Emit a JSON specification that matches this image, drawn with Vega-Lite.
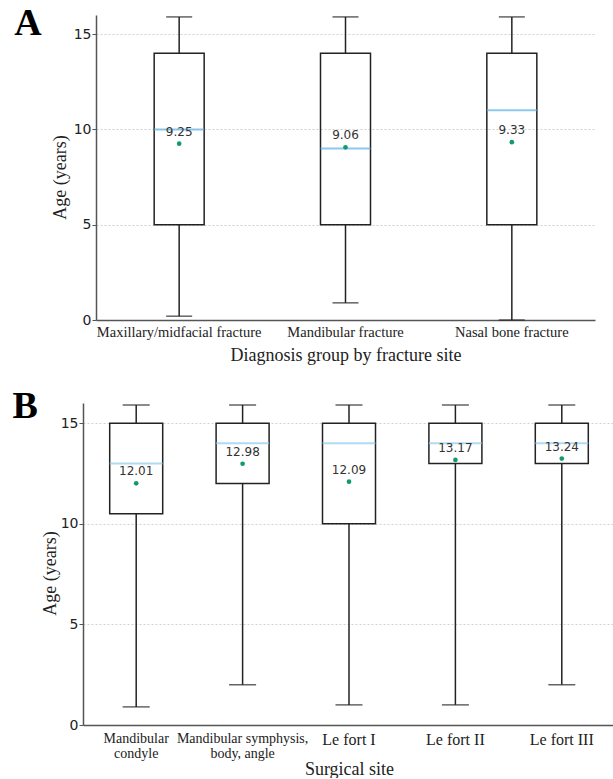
{
  "$schema": "https://vega.github.io/schema/vega-lite/v6.json",
  "padding": {"left": 12, "top": 5, "right": 0, "bottom": 0},
  "spacing": 23,
  "columns": 1,
  "background": "white",
  "config": {
    "view": {"stroke": null},
    "axis": {
      "domainColor": "#555",
      "domainWidth": 1.5,
      "gridColor": "#c4c4c4",
      "gridDash": [2, 2],
      "gridWidth": 0.8,
      "titleFont": "Liberation Serif",
      "titleFontSize": 18,
      "titleFontWeight": "normal",
      "titleColor": "#222",
      "labelColor": "#222"
    },
    "axisY": {
      "labelFont": "DejaVu Sans",
      "labelFontSize": 14,
      "tickSize": 4,
      "tickColor": "#555",
      "labelPadding": 1
    },
    "axisX": {
      "labelFont": "Liberation Serif",
      "labelFontSize": 14,
      "labelAngle": 0,
      "ticks": false,
      "bandPosition": 0.5
    }
  },
  "datasets": {
    "a": [
      {"group": "Maxillary/midfacial fracture", "low": 0.2, "q1": 5, "median": 10, "q3": 14, "high": 15.9, "mean": 9.25},
      {"group": "Mandibular fracture", "low": 0.9, "q1": 5, "median": 9, "q3": 14, "high": 15.9, "mean": 9.06},
      {"group": "Nasal bone fracture", "low": 0, "q1": 5, "median": 11, "q3": 14, "high": 15.9, "mean": 9.33}
    ],
    "b": [
      {"site": "Mandibular condyle", "low": 0.9, "q1": 10.5, "median": 13, "q3": 15, "high": 15.9, "mean": 12.01},
      {"site": "Mandibular symphysis, body, angle", "low": 2, "q1": 12, "median": 14, "q3": 15, "high": 15.9, "mean": 12.98},
      {"site": "Le fort I", "low": 1, "q1": 10, "median": 14, "q3": 15, "high": 15.9, "mean": 12.09},
      {"site": "Le fort II", "low": 1, "q1": 13, "median": 14, "q3": 15, "high": 15.9, "mean": 13.17},
      {"site": "Le fort III", "low": 2, "q1": 13, "median": 14, "q3": 15, "high": 15.9, "mean": 13.24}
    ]
  },
  "concat": [
    {
      "width": 499,
      "height": 305,
      "title": {"text": "A", "orient": "left", "anchor": "end", "frame": "group", "angle": 0, "align": "right", "font": "Liberation Serif", "fontSize": 38, "fontWeight": "bold", "color": "#000", "baseline": "alphabetic", "offset": -18, "dy": 20},
      "data": {"name": "a"},
      "encoding": {
        "x": {"field": "group", "type": "nominal", "sort": null, "scale": {"paddingInner": 0, "paddingOuter": 0},
          "axis": {"title": "Diagnosis group by fracture site", "labelPadding": 5, "titlePadding": 8, "labelFontSize": 14.5}}
      },
      "layer": [
        {"mark": {"type": "rule", "color": "#222", "strokeWidth": 1.5},
          "encoding": {"y": {"field": "low", "type": "quantitative", "scale": {"domain": [0, 16], "nice": false},
            "axis": {"title": "Age (years)", "values": [0, 5, 10, 15], "titlePadding": 4, "titleY": 162}}, "y2": {"field": "q1"}}},
        {"mark": {"type": "rule", "color": "#222", "strokeWidth": 1.5},
          "encoding": {"y": {"field": "q3", "type": "quantitative"}, "y2": {"field": "high"}}},
        {"mark": {"type": "tick", "color": "#222", "size": 26, "thickness": 1.5},
          "encoding": {"y": {"field": "low", "type": "quantitative"}}},
        {"mark": {"type": "tick", "color": "#222", "size": 26, "thickness": 1.5},
          "encoding": {"y": {"field": "high", "type": "quantitative"}}},
        {"mark": {"type": "bar", "size": 50, "fill": "transparent", "stroke": "#222", "strokeWidth": 1.5},
          "encoding": {"y": {"field": "q1", "type": "quantitative"}, "y2": {"field": "q3"}}},
        {"mark": {"type": "tick", "color": "#5eb2e6", "size": 50, "thickness": 2},
          "encoding": {"y": {"field": "median", "type": "quantitative"}}},
        {"mark": {"type": "point", "filled": true, "color": "#0f9b6c", "size": 22, "opacity": 1},
          "encoding": {"y": {"field": "mean", "type": "quantitative"}}},
        {"mark": {"type": "text", "font": "DejaVu Sans", "fontSize": 12, "color": "#333", "dy": -12, "baseline": "middle"},
          "encoding": {"y": {"field": "mean", "type": "quantitative"}, "text": {"field": "mean", "type": "quantitative", "format": ".2f"}}}
      ]
    },
    {
      "width": 506,
      "height": 322,
      "title": {"text": "B", "orient": "left", "anchor": "end", "frame": "group", "angle": 0, "align": "right", "font": "Liberation Serif", "fontSize": 38, "fontWeight": "bold", "color": "#000", "baseline": "alphabetic", "offset": -22, "dy": 15},
      "data": {"name": "b"},
      "encoding": {
        "x": {"field": "site", "type": "nominal", "sort": null, "scale": {"paddingInner": 0, "paddingOuter": 0, "range": [-13, 519]},
          "axis": {"title": "Surgical site", "labelPadding": 6, "titlePadding": 0, "labelLineHeight": 15,
            "labelExpr": "datum.label == 'Mandibular condyle' ? ['Mandibular', 'condyle'] : datum.label == 'Mandibular symphysis, body, angle' ? ['Mandibular symphysis,', 'body, angle'] : datum.label",
            "labelFontSize": {"condition": {"test": "indexof(datum.value, 'Le fort') == 0", "value": 16}, "value": 14}}}
      },
      "layer": [
        {"mark": {"type": "rule", "color": "#222", "strokeWidth": 1.5},
          "encoding": {"y": {"field": "low", "type": "quantitative", "scale": {"domain": [0, 16], "nice": false},
            "axis": {"title": "Age (years)", "values": [0, 5, 10, 15], "titlePadding": 1, "offset": 13, "titleY": 170}}, "y2": {"field": "q1"}}},
        {"mark": {"type": "rule", "color": "#222", "strokeWidth": 1.5},
          "encoding": {"y": {"field": "q3", "type": "quantitative"}, "y2": {"field": "high"}}},
        {"mark": {"type": "tick", "color": "#222", "size": 27, "thickness": 1.5},
          "encoding": {"y": {"field": "low", "type": "quantitative"}}},
        {"mark": {"type": "tick", "color": "#222", "size": 27, "thickness": 1.5},
          "encoding": {"y": {"field": "high", "type": "quantitative"}}},
        {"mark": {"type": "bar", "size": 53, "fill": "transparent", "stroke": "#222", "strokeWidth": 1.5},
          "encoding": {"y": {"field": "q1", "type": "quantitative"}, "y2": {"field": "q3"}}},
        {"mark": {"type": "tick", "color": "#8ecaee", "size": 53, "thickness": 2},
          "encoding": {"y": {"field": "median", "type": "quantitative"}}},
        {"mark": {"type": "point", "filled": true, "color": "#0f9b6c", "size": 22, "opacity": 1},
          "encoding": {"y": {"field": "mean", "type": "quantitative"}}},
        {"mark": {"type": "text", "font": "DejaVu Sans", "fontSize": 12, "color": "#333", "dy": -12, "baseline": "middle"},
          "encoding": {"y": {"field": "mean", "type": "quantitative"}, "text": {"field": "mean", "type": "quantitative", "format": ".2f"}}}
      ]
    }
  ]
}
